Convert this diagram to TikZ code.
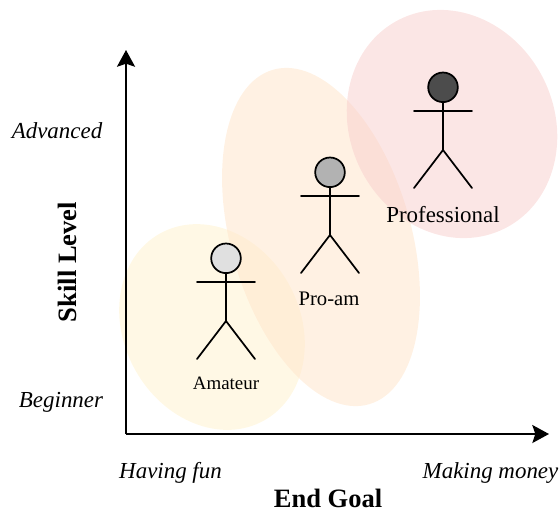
\documentclass[tikz,border=0pt]{standalone}
\usepackage{fontspec}
\setmainfont{Liberation Serif}
\usetikzlibrary{arrows.meta}
\definecolor{amberfill}{HTML}{FFF2CC}
\definecolor{orangefill}{HTML}{FFE6CC}
\definecolor{redfill}{HTML}{F8CECC}
\tikzset{
  x=0.75pt,y=-0.75pt,
  blob/.style={draw=none,fill opacity=0.5},
  axisline/.style={line width=1.5pt,-{Triangle[length=12.5pt,width=13.5pt,inset=2.2pt]}},
  limb/.style={line width=1.3pt,line cap=round},
  head/.style={circle,draw=black,line width=1.3pt,minimum size=22.2pt,inner sep=0pt},
  ticktext/.style={font=\fontsize{17.2}{20}\selectfont\itshape,inner sep=0pt},
  titletext/.style={font=\fontsize{19.9}{23}\selectfont\bfseries,inner sep=0pt},
}
\newcommand{\stickman}[4]{% id, x, head y, head colour
  \node[head,fill=#4] (#1head) at (#2,#3) {};
  \coordinate (#1hl) at (#2-29,#3+23.7);
  \coordinate (#1hr) at (#2+29,#3+23.7);
  \coordinate (#1hip) at (#2,#3+62.7);
  \coordinate (#1fl) at (#2-29,#3+100.7);
  \coordinate (#1fr) at (#2+29,#3+100.7);
  \draw[limb] (#1head.south) -- (#1hip);
  \draw[limb] (#1hl) -- (#1hr);
  \draw[limb] (#1fl) -- (#1hip) -- (#1fr);
}
\begin{document}
\begin{tikzpicture}
\useasboundingbox (0,0) rectangle (559,511);
% zones
\fill[blob,amberfill] (212,327) [rotate around={29:(212,327)}] ellipse [x radius=88,y radius=107];
\fill[blob,orangefill,fill opacity=0.55] (321,237) [rotate around={16:(321,237)}] ellipse [x radius=90,y radius=174];
\fill[blob,redfill] (452,124) [rotate around={27:(452,124)}] ellipse [x radius=102,y radius=117];
% axes
\coordinate (origin) at (126,434);
\coordinate (ytop) at (126,50);
\coordinate (xend) at (549,434);
\draw[axisline] (origin) -- (ytop);
\draw[axisline] (origin) -- (xend);
% figures
\stickman{am}{226}{258.3}{black!12}
\stickman{pa}{330}{172.3}{black!30}
\stickman{pr}{443}{87.3}{black!70}
% labels
\node[inner sep=0pt,font=\fontsize{14.2}{17}\selectfont] (amlabel) at (226,383) {Amateur};
\node[inner sep=0pt,font=\fontsize{15.5}{18}\selectfont] (palabel) at (329,299) {Pro-am};
\node[inner sep=0pt,font=\fontsize{17.2}{20}\selectfont] (prlabel) at (443,215) {Professional};
\node[ticktext] (adv) at (57,131) {Advanced};
\node[ticktext] (beg) at (61,402) {Beginner};
\node[ticktext] (fun) at (170.5,473) {Having fun};
\node[ticktext] (money) at (490.5,473) {Making money};
\node[titletext,rotate=90] (skill) at (67,262) {Skill Level};
\node[titletext] (goal) at (328,498.5) {End Goal};
\end{tikzpicture}
\end{document}
